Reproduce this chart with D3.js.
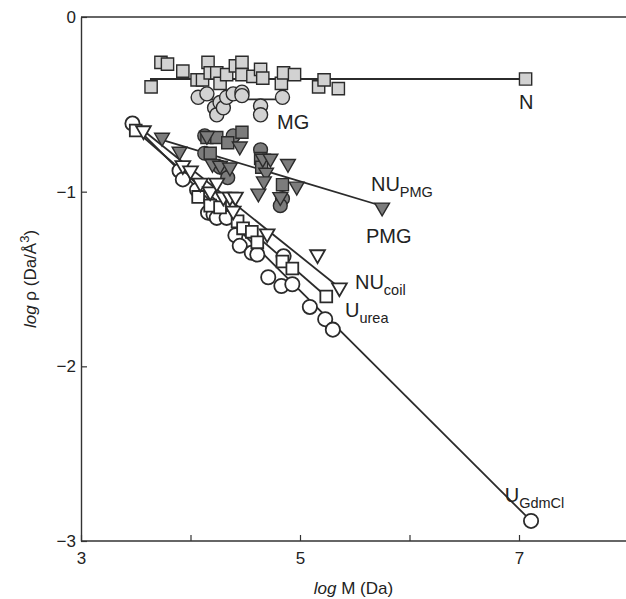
<!DOCTYPE html>
<html>
<head>
<meta charset="utf-8">
<script src="https://cdn.jsdelivr.net/npm/d3@7"></script>
<style>
  body { margin: 0; background: #fff; }
  svg { display: block; font-family: "Liberation Sans", Arial, sans-serif; }
</style>
</head>
<body>
<div id="chart"></div>
<script>
// [log M, log rho]
var nativePts = [[3.64,-0.40],[3.73,-0.26],[3.79,-0.27],[3.93,-0.31],[4.06,-0.36],[4.11,-0.36],[4.16,-0.26],[4.18,-0.32],
  [4.24,-0.32],[4.27,-0.38],[4.33,-0.33],[4.41,-0.28],[4.47,-0.26],[4.47,-0.33],[4.57,-0.34],[4.64,-0.30],[4.66,-0.35],
  [4.83,-0.38],[4.85,-0.32],[4.95,-0.33],[5.17,-0.40],[5.22,-0.36],[5.35,-0.41],[7.06,-0.355]]
var mgPts = [[4.07,-0.46],[4.15,-0.44],[4.22,-0.52],[4.24,-0.56],[4.27,-0.49],[4.30,-0.52],[4.33,-0.46],[4.39,-0.44],
  [4.47,-0.43],[4.47,-0.45],[4.64,-0.51],[4.64,-0.56],[4.84,-0.46]]
var pmgTri = [[3.74,-0.69],[3.90,-0.77],[4.15,-0.68],[4.20,-0.84],[4.27,-0.85],[4.36,-0.86],[4.45,-0.74],[4.66,-0.81],
  [4.69,-0.89],[4.67,-0.94],[4.62,-1.01],[4.73,-0.81],[4.89,-0.84],[4.97,-0.97],[4.82,-1.03],[5.75,-1.09]]
var pmgSq = [[4.15,-0.69],[4.24,-0.69],[4.47,-0.66],[4.34,-0.72],[4.18,-0.78],[4.64,-0.81],[4.65,-0.86],[4.84,-0.96]]
var pmgCirc = [[4.13,-0.68],[4.39,-0.68],[4.13,-0.78],[4.27,-0.86],[4.34,-0.92],[4.64,-0.76],[4.84,-1.04],[4.82,-1.08]]
var gdmPts = [[3.47,-0.61],[3.90,-0.88],[3.93,-0.93],[4.06,-0.99],[4.16,-1.12],[4.21,-1.13],[4.24,-1.15],[4.33,-1.15],
  [4.41,-1.25],[4.45,-1.31],[4.56,-1.35],[4.61,-1.36],[4.85,-1.37],[4.71,-1.49],[4.83,-1.54],[4.93,-1.53],
  [5.09,-1.66],[5.23,-1.73],[5.30,-1.79],[7.11,-2.885]]
var ureaPts = [[3.50,-0.65],[4.07,-1.03],[4.18,-1.08],[4.27,-1.09],[4.43,-1.17],[4.48,-1.21],[4.56,-1.23],[4.61,-1.29],
  [4.84,-1.40],[4.93,-1.44],[5.24,-1.60]]
var coilPts = [[3.57,-0.65],[3.93,-0.85],[4.00,-0.88],[4.09,-0.95],[4.18,-1.00],[4.24,-0.95],[4.30,-1.03],[4.36,-1.03],
  [4.41,-1.03],[4.39,-1.11],[4.70,-1.24],[5.16,-1.36],[5.36,-1.55]]

// fitted lines (end points)
var nativeFit = [[3.63,-0.355],[7.06,-0.355]]
var mgFit = [[4.07,-0.472],[4.84,-0.472]]
var pmgFit = [[3.74,-0.704],[5.75,-1.082]]
var gdmFit = [[3.47,-0.61],[7.11,-2.885]]
var ureaFit = [[3.50,-0.65],[5.24,-1.60]]
var coilFit = [[3.57,-0.65],[5.36,-1.55]]

var xTicks = [3,4,5,6,7]
var xLabeled = [3,5,7]
var yTicks = [0,-1,-2,-3]

var W = 626, H = 599
var margin = {left: 81, top: 17, bottom: 58}

var svg = d3.select("#chart").append("svg")
  .attr("width", W).attr("height", H)

var x = d3.scaleLinear().domain([3, 8]).range([margin.left, margin.left + 5 * 109.5])
var y = d3.scaleLinear().domain([-3, 0]).range([H - margin.bottom, margin.top])

var dark = "#2b2b2b"

// fit lines under the markers
var line = d3.line().x(function(d){ return x(d[0]) }).y(function(d){ return y(d[1]) })
var fits = [nativeFit, mgFit, pmgFit, gdmFit, ureaFit, coilFit]
svg.append("g").selectAll("path").data(fits).enter().append("path")
  .attr("d", line)
  .attr("fill", "none")
  .attr("stroke", dark)
  .attr("stroke-width", 1.8)

function drawPts(data, type, size, fill, rot, sw) {
  svg.append("g").selectAll("path").data(data).enter().append("path")
    .attr("d", d3.symbol().type(type).size(size))
    .attr("transform", function(d){ return "translate(" + x(d[0]) + "," + y(d[1]) + ")" + (rot ? " rotate(180)" : "") })
    .attr("fill", fill)
    .attr("stroke", dark)
    .attr("stroke-width", sw)
}

var lightFill = "#d2d2d2", darkFill = "#7c7c7c"
drawPts(nativePts, d3.symbolSquare, 150, lightFill, false, 1.4)
drawPts(mgPts, d3.symbolCircle, 155, lightFill, false, 1.4)
drawPts(pmgCirc, d3.symbolCircle, 150, darkFill, false, 1.4)
drawPts(pmgSq, d3.symbolSquare, 145, darkFill, false, 1.4)
drawPts(pmgTri, d3.symbolTriangle, 95, darkFill, true, 1.4)
drawPts(gdmPts, d3.symbolCircle, 160, "#fff", false, 1.8)
drawPts(ureaPts, d3.symbolSquare, 140, "#fff", false, 1.8)
drawPts(coilPts, d3.symbolTriangle, 95, "#fff", true, 1.8)

// axes
var xAxis = d3.axisBottom(x).tickValues(xTicks).tickSizeInner(-6).tickSizeOuter(0).tickPadding(11)
  .tickFormat(function(d){ return xLabeled.indexOf(d) >= 0 ? d : "" })
var gx = svg.append("g").attr("transform", "translate(0," + y(-3) + ")").call(xAxis)
gx.select(".domain").attr("d", "M" + x(3) + ",0H" + W)

var yAxis = d3.axisLeft(y).tickValues(yTicks).tickSizeInner(-6).tickSizeOuter(0).tickPadding(5)
  .tickFormat(function(d){ return d < 0 ? "\u2212" + Math.abs(d) : d })
svg.append("g").attr("transform", "translate(" + x(3) + ",0)").call(yAxis)

svg.selectAll(".domain").attr("stroke", "#333").attr("stroke-width", 1.4)
svg.selectAll(".tick line").attr("stroke", "#333").attr("stroke-width", 1.2)
svg.selectAll(".tick text").attr("font-size", 17).attr("fill", "#222")
  .attr("font-family", "Liberation Sans, Arial, sans-serif")

// top frame
svg.append("line").attr("x1", x(3)).attr("x2", W).attr("y1", y(0)).attr("y2", y(0))
  .attr("stroke", "#333").attr("stroke-width", 1.4)

// axis titles
var xt = svg.append("text").attr("x", (x(3) + W) / 2).attr("y", 594)
  .attr("text-anchor", "middle").attr("font-size", 17).attr("fill", "#222")
xt.append("tspan").attr("font-style", "italic").text("log")
xt.append("tspan").text(" M (Da)")

var yt = svg.append("text").attr("transform", "translate(36," + ((y(0) + y(-3)) / 2) + ") rotate(-90)")
  .attr("text-anchor", "middle").attr("font-size", 17).attr("fill", "#222")
yt.append("tspan").attr("font-style", "italic").text("log")
yt.append("tspan").text(" \u03c1 (Da/\u00c5")
yt.append("tspan").attr("dy", -7).attr("font-size", 13).text("3")
yt.append("tspan").attr("dy", 7).text(")")

// series labels
var labels = [
  {t: "N", sub: "", m: 7.00, r: -0.527},
  {t: "MG", sub: "", m: 4.79, r: -0.641},
  {t: "NU", sub: "PMG", m: 5.648, r: -0.996},
  {t: "PMG", sub: "", m: 5.603, r: -1.294},
  {t: "NU", sub: "coil", m: 5.502, r: -1.557},
  {t: "U", sub: "urea", m: 5.411, r: -1.717},
  {t: "U", sub: "GdmCl", m: 6.87, r: -2.775}
]
labels.forEach(function(l){
  var t = svg.append("text").attr("x", x(l.m)).attr("y", y(l.r))
    .attr("font-size", 20).attr("fill", "#222").text(l.t)
  if (l.sub) t.append("tspan").attr("dy", 6).attr("font-size", 14.5).text(l.sub)
})
</script>
</body>
</html>
